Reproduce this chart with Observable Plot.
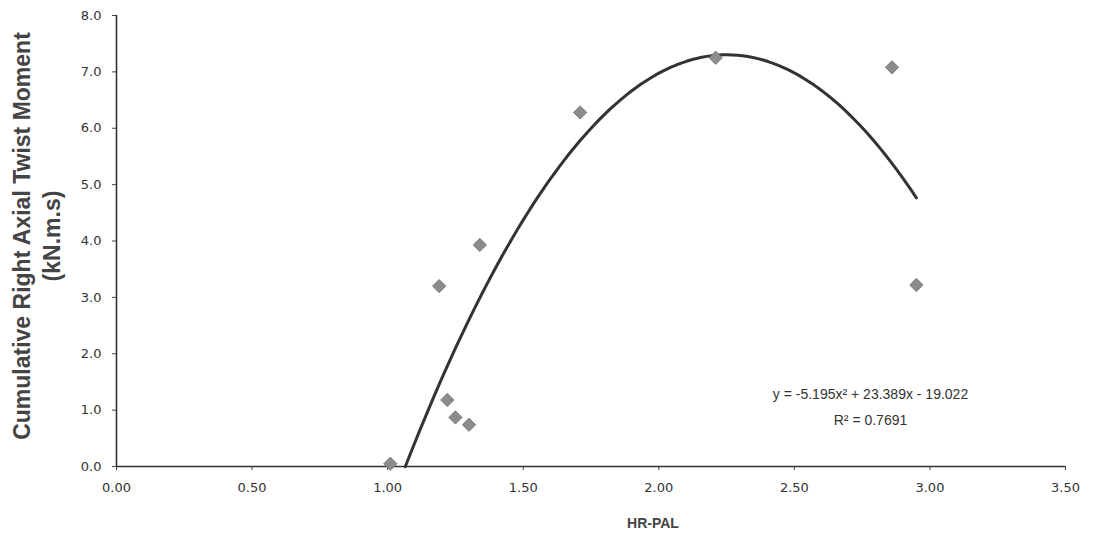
<!DOCTYPE html>
<html>
<head>
<meta charset="utf-8">
<script src="https://cdn.jsdelivr.net/npm/d3@7"></script>
<script src="https://cdn.jsdelivr.net/npm/@observablehq/plot@0.6"></script>
<style>
  body { margin: 0; background: #fff; }
  svg { display: block; }
</style>
</head>
<body>
<div id="chart"></div>
<script>
const hrPal = [1.01, 1.19, 1.22, 1.25, 1.30, 1.34, 1.71, 2.21, 2.86, 2.95];
const moment = [0.05, 3.20, 1.18, 0.87, 0.74, 3.93, 6.28, 7.25, 7.08, 3.22];
const trendCoef = [-5.195, 23.389, -19.022]; // from the chart's equation label
const trendRange = [1.065, 2.95];
const xTicks = [0, 0.5, 1, 1.5, 2, 2.5, 3, 3.5];
const yTicks = [0, 1, 2, 3, 4, 5, 6, 7, 8];
const equationText = "y = -5.195x² + 23.389x - 19.022\nR² = 0.7691";
const xTitle = "HR-PAL";
const yTitle = "Cumulative Right Axial Twist Moment\n(kN.m.s)";

const points = hrPal.map((x, i) => ({x, y: moment[i]}));
const trend = d3.range(0, 101).map(i => {
  const x = trendRange[0] + (trendRange[1] - trendRange[0]) * i / 100;
  return {x, y: trendCoef[0] * x * x + trendCoef[1] * x + trendCoef[2]};
});

const chart = Plot.plot({
  width: 1099,
  height: 538,
  marginLeft: 116,
  marginRight: 34,
  marginTop: 15,
  marginBottom: 72,
  style: {fontFamily: "DejaVu Sans", fontSize: "13px", color: "#333", background: "#fff"},
  x: {domain: [0, 3.5], ticks: xTicks, tickFormat: d3.format(".2f"), label: null},
  y: {domain: [0, 8], ticks: yTicks, tickFormat: d3.format(".1f"), label: null},
  marks: [
    Plot.axisX({ticks: xTicks, tickFormat: d3.format(".2f"), tickSize: 4, tickPadding: 12, stroke: "#444", fill: "#333", fontSize: 13}),
    Plot.axisY({ticks: yTicks, tickFormat: d3.format(".1f"), tickSize: 4, tickPadding: 11, stroke: "#444", fill: "#333", fontSize: 13}),
    Plot.ruleY([0], {stroke: "#333", strokeWidth: 1.6}),
    Plot.ruleX([0], {stroke: "#333", strokeWidth: 1.6}),
    Plot.line(trend, {x: "x", y: "y", stroke: "#333", strokeWidth: 3}),
    Plot.dot(points, {x: "x", y: "y", symbol: "diamond2", r: 6, fill: "#8c8c8c", stroke: "#707070", strokeWidth: 0.8}),
    Plot.text([equationText], {frameAnchor: "bottom-right", dx: -195, dy: -63, textAnchor: "middle", lineAnchor: "middle", lineHeight: 1.85, fontSize: 14, fontFamily: "Liberation Sans, Arial, sans-serif", fill: "#333"}),
    Plot.text([xTitle], {frameAnchor: "bottom", dx: 62, dy: 57, textAnchor: "middle", lineAnchor: "middle", fontSize: 14, fontWeight: "bold", fontFamily: "Liberation Sans, Arial, sans-serif", fill: "#444"}),
    Plot.text([yTitle], {frameAnchor: "left", dx: -81, dy: -5, rotate: -90, textAnchor: "middle", lineAnchor: "middle", lineHeight: 1.3, fontSize: 23, fontWeight: "bold", fontFamily: "Liberation Sans, Arial, sans-serif", fill: "#444"})
  ]
});
document.getElementById("chart").appendChild(chart);
</script>
</body>
</html>
